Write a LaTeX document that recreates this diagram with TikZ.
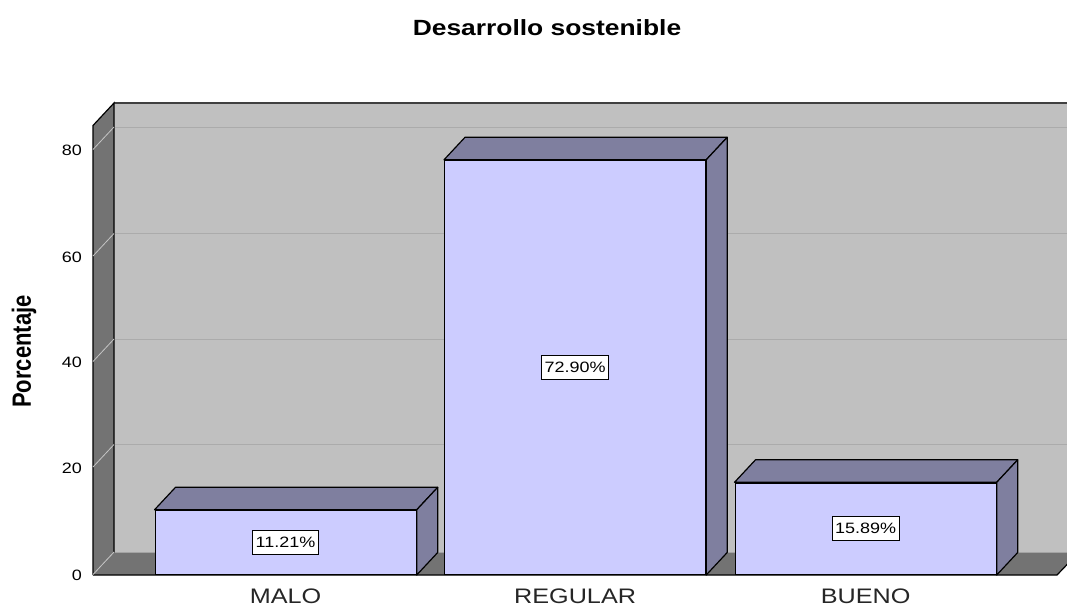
\documentclass[tikz,border=0pt]{standalone}
\usepackage{graphicx}
\usepackage{fontspec}
\setmainfont{Liberation Sans}[FakeStretch=1.2]
\newfontfamily\plainsans{Liberation Sans}
\usetikzlibrary{calc}

\definecolor{wallgray}{HTML}{C0C0C0}
\definecolor{sidegray}{HTML}{737373}
\definecolor{gridgray}{HTML}{ABABAB}
\definecolor{tickgray}{HTML}{C4C4C4}
\definecolor{barfront}{HTML}{CCCCFF}
\definecolor{bartop}{HTML}{7F7F9F}

\tikzset{
  barface/.style={draw=black, line width=1.2pt, fill=barfront, minimum width=261pt,
    anchor=south west, inner sep=0pt},
  barshade/.style={draw=black, line width=1.2pt, fill=bartop, line join=round},
  valbox/.style={draw=black, fill=white, line width=0.9pt, inner xsep=3pt, inner ysep=0pt,
    minimum height=24pt, font=\fontsize{15}{15}\selectfont},
  catlabel/.style={anchor=base, text=black!85, font=\fontsize{21}{21}\selectfont},
  ticklabel/.style={anchor=east, inner sep=0pt, font=\fontsize{15}{15}\selectfont},
  tickline/.style={tickgray, line width=0.8pt},
  gridline/.style={gridgray, line width=1pt},
}

\begin{document}
\begin{tikzpicture}[x=1pt, y=-1pt]
  \useasboundingbox (0,0) rectangle (1067,606);
  \fill[white] (0,0) rectangle (1067,606);

  \begin{scope}
    \clip (0,0) rectangle (1067,606);
    % back wall and floor
    \fill[wallgray] (114,103) rectangle (1080,552.5);
    \draw[gridline] (114,127) -- (1080,127);
    \draw[gridline] (114,233.5) -- (1080,233.5);
    \draw[gridline] (114,339) -- (1080,339);
    \draw[gridline] (114,444.5) -- (1080,444.5);
    \draw[black!75, line width=2pt] (114,103) -- (1080,103);
    \fill[sidegray] (93,575) -- (114,552.5) -- (1080,552.5) -- (1057,575) -- cycle;
    \draw[black, line width=1.2pt] (93,575) -- (1057,575) -- (1078.5,552.5);
  \end{scope}

  % left wall
  \filldraw[fill=sidegray, draw=black, line width=1.2pt]
    (114,552.5) -- (114,103) -- (93,125.5) -- (93,575);
  \draw[tickline] (93,574.5) -- ++(21,-22.5);
  \draw[tickline] (93,467) -- ++(21,-22.5);
  \draw[tickline] (93,361.5) -- ++(21,-22.5);
  \draw[tickline] (93,256) -- ++(21,-22.5);
  \draw[tickline] (93,149.5) -- ++(21,-22.5);

  % axis
  \node[ticklabel] (t0) at (82,575) {0};
  \node[ticklabel] (t20) at (82,468) {20};
  \node[ticklabel] (t40) at (82,362.5) {40};
  \node[ticklabel] (t60) at (82,257) {60};
  \node[ticklabel] (t80) at (82,150.5) {80};
  \node[rotate=90] (ylab) at (24,351.5)
    {\plainsans\bfseries\fontsize{22}{22}\selectfont\scalebox{1}[1.2]{Porcentaje}};

  % bars
  \node[barface, minimum height=64pt] (malobar) at (154.5,575) {};
  \draw[barshade] (malobar.north west) -- ++(21,-22.5) -- ($(malobar.north east)+(21,-22.5)$)
    -- (malobar.north east) -- cycle;
  \draw[barshade] (malobar.north east) -- ++(21,-22.5) -- ($(malobar.south east)+(21,-22.5)$)
    -- (malobar.south east) -- cycle;

  \node[barface, minimum height=414pt] (regularbar) at (444,575) {};
  \draw[barshade] (regularbar.north west) -- ++(21,-22.5) -- ($(regularbar.north east)+(21,-22.5)$)
    -- (regularbar.north east) -- cycle;
  \draw[barshade] (regularbar.north east) -- ++(21,-22.5) -- ($(regularbar.south east)+(21,-22.5)$)
    -- (regularbar.south east) -- cycle;

  \node[barface, minimum height=91.5pt] (buenobar) at (734.5,575) {};
  \draw[barshade] (buenobar.north west) -- ++(21,-22.5) -- ($(buenobar.north east)+(21,-22.5)$)
    -- (buenobar.north east) -- cycle;
  \draw[barshade] (buenobar.north east) -- ++(21,-22.5) -- ($(buenobar.south east)+(21,-22.5)$)
    -- (buenobar.south east) -- cycle;

  % values
  \node[valbox] (maloval) at (malobar.center) {11.21\%};
  \node[valbox] (regularval) at (regularbar.center) {72.90\%};
  \node[valbox] (buenoval) at (buenobar.center) {15.89\%};

  % categories
  \node[catlabel] (malo) at (malobar.center |- 0,603) {MALO};
  \node[catlabel] (regular) at (regularbar.center |- 0,603) {REGULAR};
  \node[catlabel] (bueno) at (buenobar.center |- 0,603) {BUENO};

  \node (title) at (547,28) {\bfseries\fontsize{22}{22}\selectfont Desarrollo sostenible};
\end{tikzpicture}
\end{document}
